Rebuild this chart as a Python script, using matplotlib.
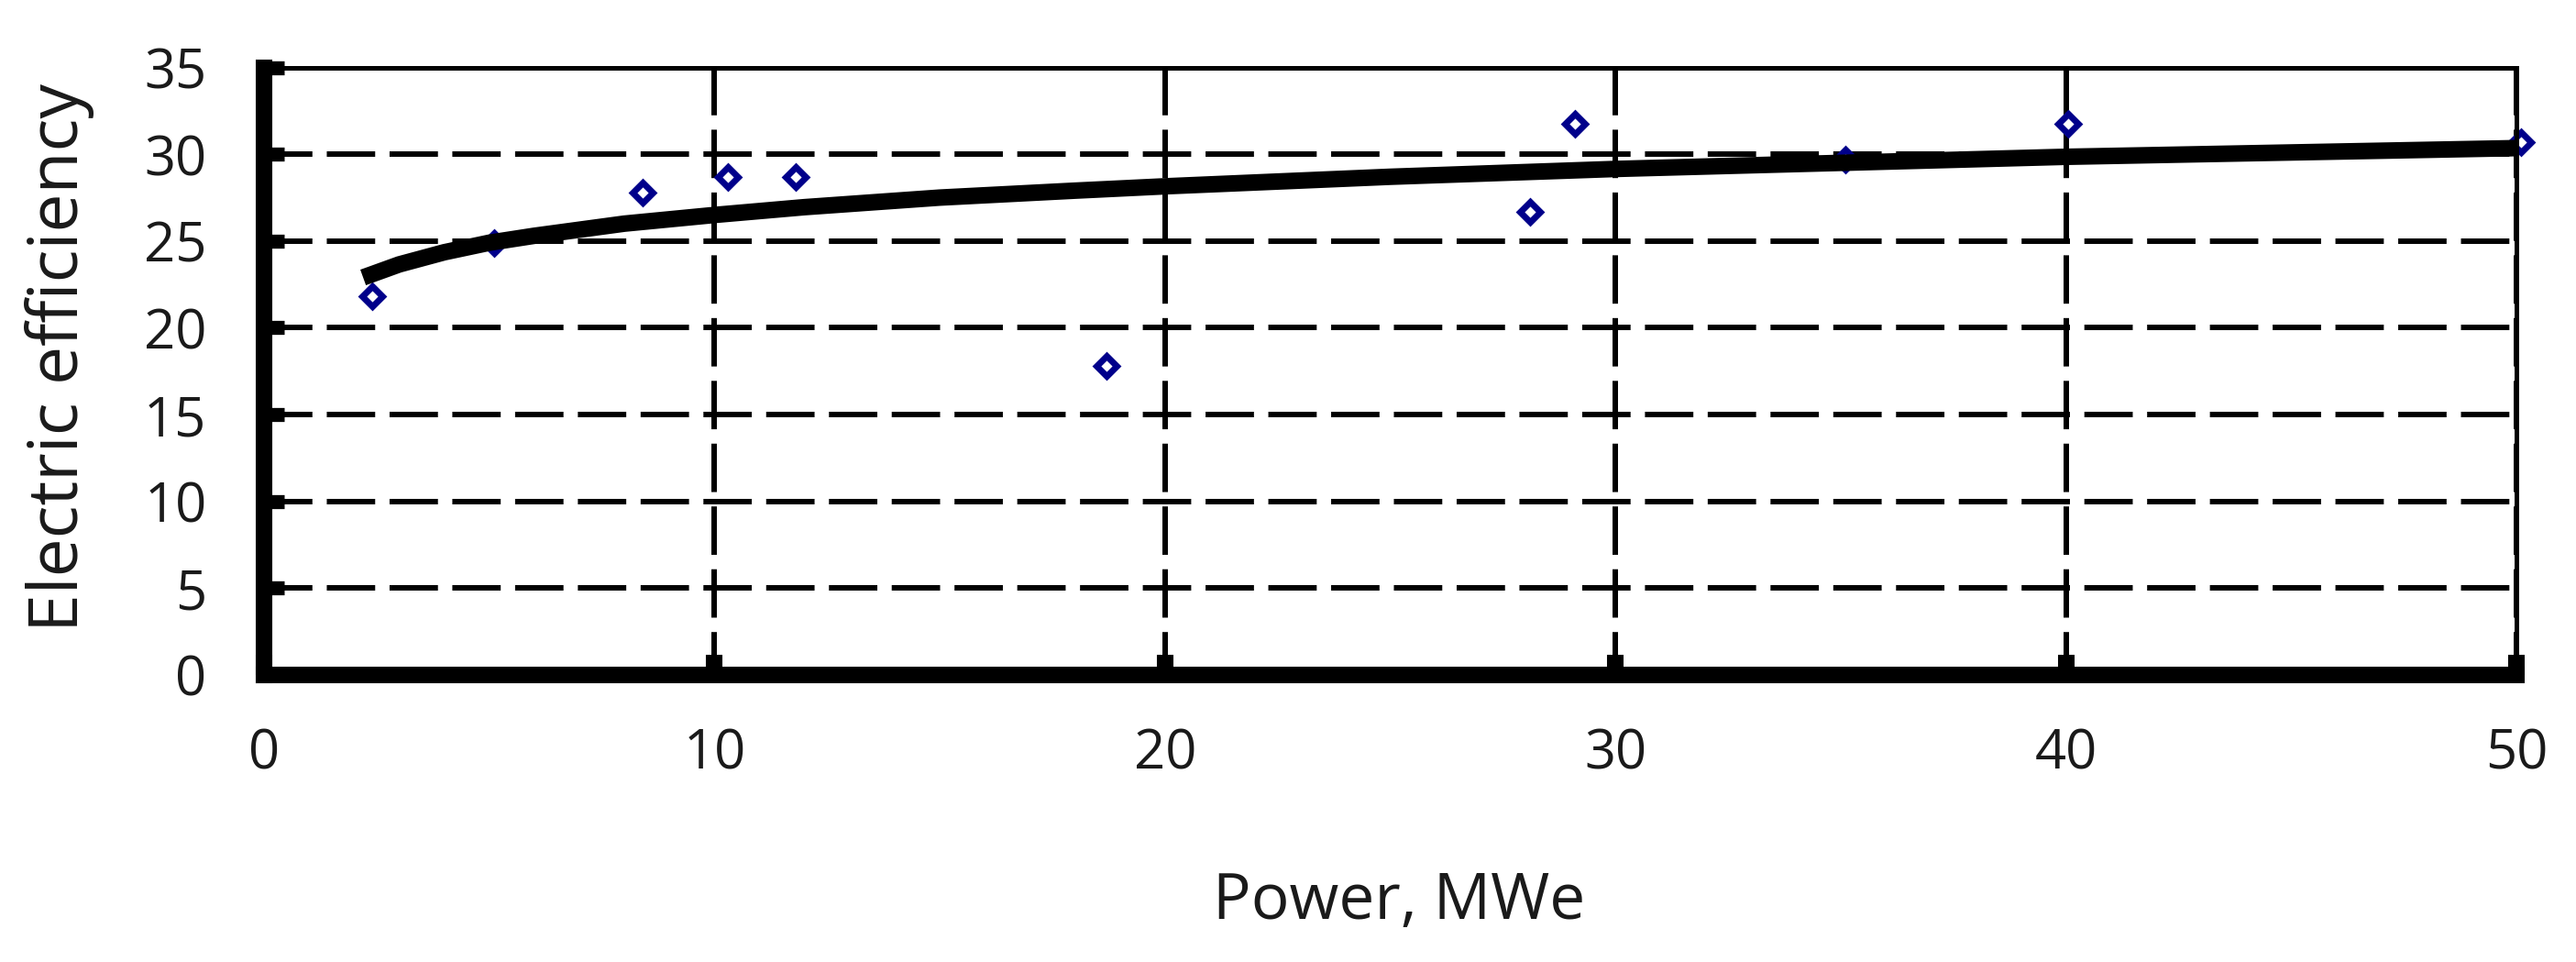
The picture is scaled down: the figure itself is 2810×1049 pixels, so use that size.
import matplotlib
matplotlib.use("Agg")
import matplotlib.pyplot as plt

plt.rcParams['font.family'] = ['Open Sans', 'DejaVu Sans']
plt.rcParams['lines.scale_dashes'] = False

# measured plants
power = [2.4, 5.1, 8.4, 10.3, 11.8, 18.7, 28.1, 29.1, 35.1, 40.05, 50.1]
efficiency = [21.8, 24.9, 27.8, 28.7, 28.7, 17.8, 26.7, 31.75, 29.7, 31.75, 30.7]

# trend line
trend_power = [2.2, 3, 4, 5, 6, 8, 10, 12, 15, 18, 20, 25, 30, 35, 40, 45, 50]
trend_eff = [22.9, 23.65, 24.35, 24.9, 25.3, 26.0, 26.5, 26.95, 27.5, 27.9,
             28.15, 28.7, 29.15, 29.5, 29.85, 30.1, 30.35]

x_ticks = [0, 10, 20, 30, 40, 50]
y_ticks = [0, 5, 10, 15, 20, 25, 30, 35]

txt = "#1a1a1a"

fig = plt.figure(figsize=(28.10, 10.49), dpi=100)
ax = fig.add_axes([0.10249, 0.29838, 0.87438, 0.63155])

ax.set_xlim(0, 50)
ax.set_ylim(0, 35)
ax.set_xticks(x_ticks)
ax.set_yticks(y_ticks)

# dashed grid
ax.yaxis.grid(True, color="black", linewidth=4.3, linestyle=(0, (38, 11.3)), zorder=1)
ax.xaxis.grid(True, color="black", linewidth=4.3, linestyle=(4.3, (38, 11.3)), zorder=1)
ax.set_axisbelow(True)

ax.plot(power, efficiency, linestyle="none", marker="D", markersize=10.7,
        markeredgewidth=5, markeredgecolor="#00008B", markerfacecolor="white",
        zorder=3, clip_on=False)
ax.plot(trend_power, trend_eff, color="black", linewidth=13,
        solid_capstyle="butt", zorder=4)

for side in ["left", "bottom"]:
    ax.spines[side].set_linewidth(13)
for side in ["top", "right"]:
    ax.spines[side].set_linewidth(3.6)
for s in ax.spines.values():
    s.set_color("black")
    s.set_zorder(5)

ax.tick_params(axis="x", direction="in", length=16, width=13, pad=41,
               labelsize=43, labelcolor=txt, color="black")
ax.tick_params(axis="y", direction="in", length=16, width=11, pad=45,
               labelsize=43, labelcolor=txt, color="black")

ax.set_xlabel("Power, MWe", fontsize=50, color=txt)
ax.set_ylabel("Electric efficiency", fontsize=54, color=txt)
ax.xaxis.set_label_coords(0.504, -0.3215)
ax.yaxis.set_label_coords(-0.0753, 0.522)

fig.savefig("out.png", dpi=100)
